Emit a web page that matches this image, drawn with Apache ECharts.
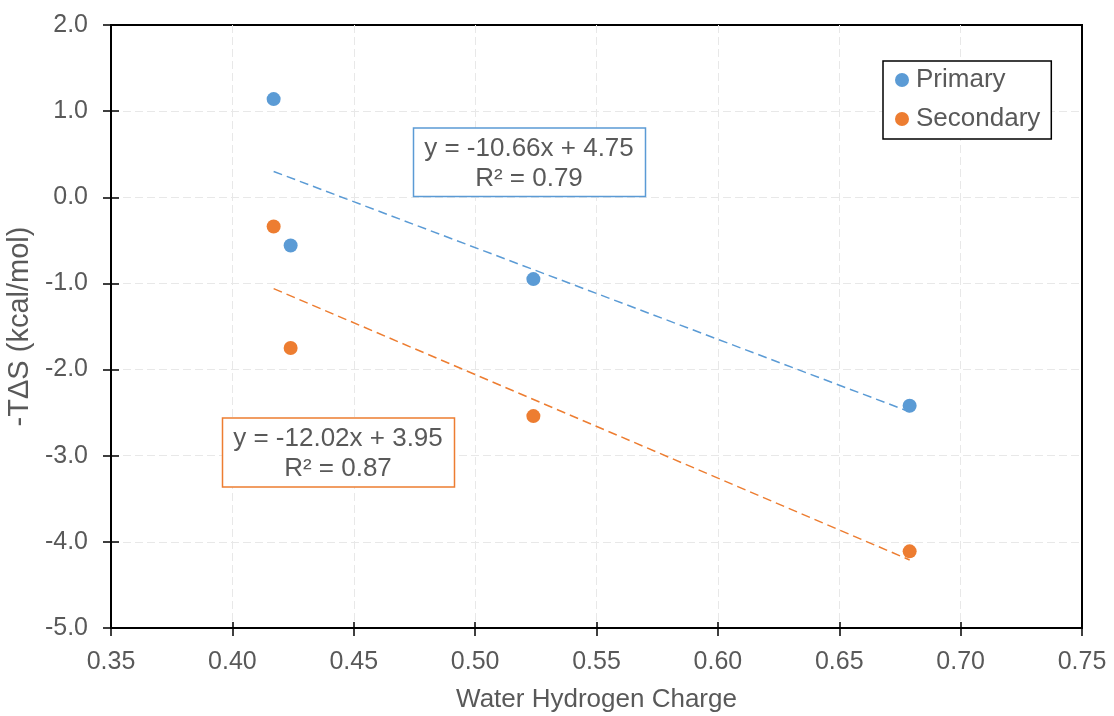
<!DOCTYPE html>
<html>
<head>
<meta charset="utf-8">
<script src="https://cdn.jsdelivr.net/npm/echarts@6/dist/echarts.min.js"></script>
<style>html,body{margin:0;padding:0;background:#fff}#c{width:1114px;height:716px}</style>
</head>
<body>
<div id="c"></div>
<script>
// Data
var primaryX = [0.417, 0.424, 0.524, 0.679];
var primaryY = [1.14, -0.56, -0.95, -2.42];
var secondaryX = [0.417, 0.424, 0.524, 0.679];
var secondaryY = [-0.34, -1.75, -2.54, -4.11];
// Trendline endpoints
var primaryTrendX = [0.417, 0.679];
var primaryTrendY = [0.30, -2.49];
var secondaryTrendX = [0.417, 0.679];
var secondaryTrendY = [-1.06, -4.21];
var primaryEq = ['y = -10.66x + 4.75', 'R² = 0.79'];
var secondaryEq = ['y = -12.02x + 3.95', 'R² = 0.87'];
var seriesNames = ['Primary', 'Secondary'];
var xTitle = 'Water Hydrogen Charge';
var yTitle = '-TΔS (kcal/mol)';

function pairs(xs, ys){ return xs.map(function(x,i){return [x, ys[i]];}); }

var FONT = 'Liberation Sans, Arial, sans-serif';
var TXT = '#595959';
var BLUE = '#5B9BD5', ORANGE = '#ED7D31';

var chart = echarts.init(document.getElementById('c'));
var gridLine = {show:true, showMinLine:false, showMaxLine:false, lineStyle:{color:'#e8e8e8', type:[8,4], width:1}};
var option = {
  animation:false,
  backgroundColor:'#fff',
  textStyle:{fontFamily:FONT},
  grid:{left:111, right:32, top:25, bottom:88, show:true, borderColor:'#000', borderWidth:2, backgroundColor:'transparent', containLabel:false, outerBoundsMode:'none'},
  legend:{
    data:[{name:seriesNames[0]},{name:seriesNames[1]}],
    orient:'vertical', left:883, top:61,
    icon:'circle', itemWidth:14, itemHeight:14, itemGap:13,
    padding:[6,11,7,12],
    borderColor:'#000', borderWidth:1.5, backgroundColor:'#fff',
    textStyle:{color:TXT, fontSize:26, lineHeight:26, fontFamily:FONT, padding:[0,0,0,2]}
  },
  xAxis:[{
    type:'value', min:0.35, max:0.75, interval:0.05,
    name:xTitle, nameLocation:'middle', nameGap:59,
    nameTextStyle:{color:TXT, fontSize:26, fontFamily:FONT},
    axisLine:{show:true, onZero:false, lineStyle:{color:'#000', width:2}},
    axisTick:{show:true, length:8, lineStyle:{color:'#000', width:1.5}},
    axisLabel:{color:TXT, fontSize:25, fontFamily:FONT, margin:22, formatter:function(v){return v.toFixed(2);}},
    splitLine:gridLine
  },{
    type:'value', min:0.35, max:0.75, interval:0.05, position:'bottom',
    axisLine:{show:false, onZero:false}, axisLabel:{show:false}, splitLine:{show:false},
    axisTick:{show:true, inside:true, length:6, lineStyle:{color:'#000', width:1.5}}
  }],
  yAxis:[{
    type:'value', min:-5, max:2, interval:1,
    name:yTitle, nameLocation:'middle', nameGap:56, nameRotate:90,
    nameTextStyle:{color:TXT, fontSize:29, fontFamily:FONT},
    axisLine:{show:true, onZero:false, lineStyle:{color:'#000', width:2}},
    axisTick:{show:true, length:8, lineStyle:{color:'#000', width:1.5}},
    axisLabel:{color:TXT, fontSize:25, fontFamily:FONT, margin:23, formatter:function(v){return v.toFixed(1);}},
    splitLine:gridLine
  },{
    type:'value', min:-5, max:2, interval:1, position:'left',
    axisLine:{show:false, onZero:false}, axisLabel:{show:false}, splitLine:{show:false},
    axisTick:{show:true, inside:true, length:8, lineStyle:{color:'#000', width:1.5}}
  }],
  series:[
    {name:'pTrend', type:'line', data:pairs(primaryTrendX, primaryTrendY), showSymbol:false, symbol:'none',
     lineStyle:{color:BLUE, width:1.5, type:[9,5]}, silent:true, z:2},
    {name:'sTrend', type:'line', data:pairs(secondaryTrendX, secondaryTrendY), showSymbol:false, symbol:'none',
     lineStyle:{color:ORANGE, width:1.5, type:[9,5]}, silent:true, z:2},
    {name:seriesNames[0], type:'scatter', data:pairs(primaryX, primaryY), symbol:'circle', symbolSize:14,
     itemStyle:{color:BLUE, opacity:1}, z:3},
    {name:seriesNames[1], type:'scatter', data:pairs(secondaryX, secondaryY), symbol:'circle', symbolSize:14,
     itemStyle:{color:ORANGE, opacity:1}, z:3}
  ],
  graphic:[
    {type:'rect', shape:{x:413.5, y:128, width:232, height:68.5}, style:{fill:'#fff', stroke:BLUE, lineWidth:1.5}, z:10},
    {type:'text', x:529, y:149, style:{text:primaryEq[0], fill:TXT, font:'26px '+FONT, align:'center', verticalAlign:'middle'}, z:11},
    {type:'text', x:529, y:179, style:{text:primaryEq[1], fill:TXT, font:'26px '+FONT, align:'center', verticalAlign:'middle'}, z:11},
    {type:'rect', shape:{x:222.5, y:418, width:232, height:69}, style:{fill:'#fff', stroke:ORANGE, lineWidth:1.5}, z:10},
    {type:'text', x:338, y:438.5, style:{text:secondaryEq[0], fill:TXT, font:'26px '+FONT, align:'center', verticalAlign:'middle'}, z:11},
    {type:'text', x:338, y:469, style:{text:secondaryEq[1], fill:TXT, font:'26px '+FONT, align:'center', verticalAlign:'middle'}, z:11}
  ]
};
chart.setOption(option);
</script>
</body>
</html>
